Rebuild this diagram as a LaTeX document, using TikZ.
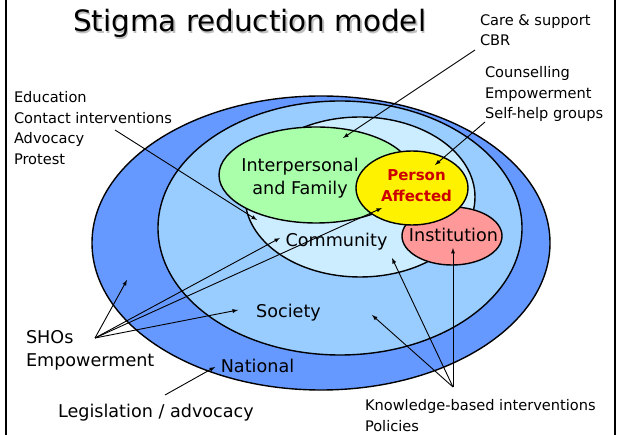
\documentclass[tikz,border=0pt]{standalone}
\usepackage{fontspec}
\setmainfont{DejaVu Sans}
\usetikzlibrary{shapes.geometric}

\definecolor{nationalblue}{HTML}{6699FF}
\definecolor{societyblue}{HTML}{99CCFF}
\definecolor{communityblue}{HTML}{CCECFF}
\definecolor{familygreen}{HTML}{AAFFAA}
\definecolor{institutionred}{HTML}{FF9999}
\definecolor{personred}{HTML}{CC0000}

\newcommand{\notefont}{\fontsize{14.6}{20.5}\selectfont}
\newcommand{\zonefont}{\fontsize{17.6}{22.5}\selectfont}

\begin{document}
\begin{tikzpicture}[x=1pt, y=-1pt]
\tikzset{ >=latex, inner sep=0pt, outer sep=0pt,
  zone/.style={ellipse, draw=black, line width=1.4pt},
  note/.style={anchor=north west, align=left, font=\notefont},
  zonetxt/.style={anchor=base, font=\zonefont},
  link/.style={->, line width=0.9pt},
}

\useasboundingbox (0,0) rectangle (619,435);

% frame
\draw [line width=2pt] (6,0)   -- (6,435);
\draw [line width=2pt] (615,0) -- (615,435);

% title
\node [anchor=base west, font=\fontsize{29.4}{30}\selectfont, text=gray!50] (title-shadow) at (74.5,33.5) {Stigma reduction model};
\node [anchor=base west, font=\fontsize{29.4}{30}\selectfont] (title) at (73,32) {Stigma reduction model};

% levels
\node [zone, fill=nationalblue,   minimum width=458, minimum height=294] (national)    at (321,243) {};
\node [zone, fill=societyblue,    minimum width=364, minimum height=254] (society)     at (340,228) {};
\node [zone, fill=communityblue,  minimum width=230, minimum height=160] (community)   at (360,197) {};
\node [zone, fill=familygreen,    minimum width=194, minimum height=96]  (family)      at (316,175) {};
\node [zone, fill=institutionred, minimum width=100, minimum height=58]  (institution) at (452,236) {};
\node [zone, fill=yellow,         minimum width=112, minimum height=74]  (person)      at (412,188) {};

\node [zonetxt] (national-txt)    at (257.5,373) {National};
\node [zonetxt] (society-txt)     at (288.5,318) {Society};
\node [zonetxt] (community-txt)   at (336.5,247) {Community};
\node [zonetxt] (institution-txt) at (453.5,242) {Institution};
\node [anchor=north, align=center, font=\zonefont] (family-txt) at (300,158.5) {Interpersonal\\and Family};
\node [anchor=north, align=center, font=\fontsize{15}{21}\selectfont\bfseries, text=personred] (person-txt) at (416.5,170) {Person\\Affected};

% interventions
\node [note] (care)      at (480,14.5)  {Care \& support\\CBR};
\node [note] (counsel)   at (485,66.5)  {Counselling\\Empowerment\\Self-help groups};
\node [note] (education) at (14,91.5)   {Education\\Contact interventions\\Advocacy\\Protest};
\node [note, font=\zonefont] (shos)  at (26,330.5) {SHOs\\Empowerment};
\node [note, font=\zonefont] (legis) at (58,404.5) {Legislation / advocacy};
\node [note, line width=0pt] (knowledge) at (365,399.5) {Knowledge-based interventions\\Policies};

% arrow ends
\coordinate (care-tail)      at (475,50);
\coordinate (care-head)      at (343,138);
\coordinate (counsel-tail)   at (485,122);
\coordinate (counsel-head)   at (435,165);
\coordinate (education-tail) at (115,130);
\coordinate (education-head) at (257,220);
\coordinate (shos-tail)      at (95,338);
\coordinate (shos-national)  at (127,280);
\coordinate (shos-community) at (280,238);
\coordinate (shos-person)    at (382,208);
\coordinate (shos-society)   at (238,310);
\coordinate (legis-tail)     at (165,395);
\coordinate (legis-head)     at (215,367);
\coordinate (know-tail)      at (453,387);
\coordinate (know-institution) at (453,248);
\coordinate (know-community) at (392,258);
\coordinate (know-society)   at (372,315);

\draw [link] (care-tail)      -- (care-head);
\draw [link] (counsel-tail)   -- (counsel-head);
\draw [link] (education-tail) -- (education-head);

\draw [link] (shos-tail) -- (shos-national);
\draw [link] (shos-tail) -- (shos-community);
\draw [link] (shos-tail) -- (shos-person);
\draw [link] (shos-tail) -- (shos-society);

\draw [link] (legis-tail) -- (legis-head);

\draw [link] (know-tail) -- (know-institution);
\draw [link] (know-tail) -- (know-community);
\draw [link] (know-tail) -- (know-society);

\end{tikzpicture}
\end{document}
